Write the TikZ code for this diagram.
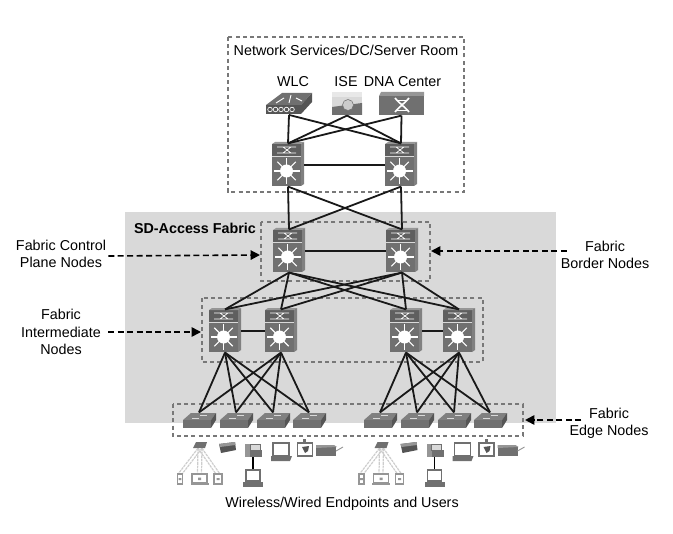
\documentclass[tikz,border=0pt]{standalone}
\usepackage{fontspec}
\setmainfont{Liberation Sans}
\usetikzlibrary{arrows.meta}
\usetikzlibrary{calc}
\definecolor{fabric-gray}{RGB}{217, 217, 217}
\definecolor{box-gray}{RGB}{120, 120, 120}
\definecolor{sw-gray}{RGB}{112, 112, 112}
\definecolor{sw-light}{RGB}{150, 150, 150}
\definecolor{sw-dark}{RGB}{85, 85, 85}
\definecolor{air-gray}{RGB}{205, 205, 205}
\tikzset{
  link/.style={draw=black!90, line width=1.35pt},
  zonebox/.style={draw=box-gray, line width=1.1pt, dash pattern=on 3pt off 2.4pt},
  callout/.style={draw=black, line width=1.2pt, dash pattern=on 4.5pt off 2.6pt, -{Triangle[length=7pt,width=7pt]}},
  label/.style={font=\fontsize{10.75}{13}\selectfont, align=center, inner sep=0pt},
  hitbox/.style={minimum width=#1, inner sep=0pt},
}
% multilayer switch
\newcommand{\mlswitch}[2]{
  \node[hitbox=24pt, minimum height=32pt] (#1) at (#2) {};
  \begin{scope}[shift={(#2)}]
    \fill[sw-gray] (-16,-9) rectangle (13,21);
    \fill[sw-gray!85!black] (-16,-21) rectangle (13,-9);
    \fill[sw-light] (-16,-21) -- (-13,-23) -- (16,-23) -- (13,-21) -- cycle;
    \fill[sw-light!85!black] (13,-21) -- (16,-23) -- (16,19) -- (13,21) -- cycle;
    \draw[fabric-gray, line width=.5pt] (-16,-9) -- (13,-9);
    \draw[white, line width=.5pt] (-11,-18) -- (8,-18) (-11,-12) -- (8,-12) (-5,-18) -- (3,-12) (-5,-12) -- (3,-18);
    \foreach \a in {0,45,...,315} \draw[white, line width=.8pt] (-1.5,6) -- ++(\a:13);
    \fill[white] (-1.5,6) circle (6.5);
  \end{scope}
}
% access switch
\newcommand{\edgeswitch}[2]{
  \node[hitbox=24pt, minimum height=11pt] (#1) at (#2) {};
  \begin{scope}[shift={(#2)}]
    \fill[sw-light!85!black] (-16,0) -- (-8,-7) -- (17,-7) -- (12,0) -- cycle;
    \fill[sw-gray] (-16,0) rectangle (12,8);
    \fill[sw-dark] (12,0) -- (17,-7) -- (17,0) -- (12,8) -- cycle;
    \draw[fabric-gray, line width=.4pt] (-7,-2) -- (0,-2) (1,-5) -- (8,-5);
  \end{scope}
}
\begin{document}
\begin{tikzpicture}[x=0.75pt, y=-0.75pt]
\useasboundingbox (0,0) rectangle (673,534);
\fill[fabric-gray] (125,212) rectangle (556,423);
\draw[zonebox] (228,37) rectangle (464,192);
\draw[zonebox] (261,222) rectangle (430,281);
\draw[zonebox] (202,298) rectangle (483,362);
\draw[zonebox] (173,404) rectangle (523,436);
% labels
\node[label] (services) at (346,50) {Network Services/DC/Server Room};
\node[label] (wlctext) at (293,82) {WLC};
\node[label] (isetext) at (346,82) {ISE};
\node[label] (dnatext) at (402.5,82) {DNA Center};
\node[label, font=\fontsize{10.75}{13}\selectfont\bfseries] (fabrictext) at (195,228) {SD-Access Fabric};
\node[label] (controltext) at (61,254) {Fabric Control\\Plane Nodes};
\node[label] (bordertext) at (605,255) {Fabric\\Border Nodes};
\node[label] (intertext) at (61,332) {Fabric\\Intermediate\\Nodes};
\node[label] (edgetext) at (609,423) {Fabric\\Edge Nodes};
\node[label] (usertext) at (342,504) {Wireless/Wired Endpoints and Users};
% services
\node[hitbox=34.5pt, minimum height=16pt] (wlc) at (289,104) {};
\fill[sw-gray] (266,105) -- (282,93) -- (312,93) -- (301,105) -- cycle;
\fill[sw-dark] (266,105) rectangle (301,114);
\fill[sw-dark] (301,105) -- (312,93) -- (312,102) -- (301,114) -- cycle;
\draw[white, line width=.7pt] (276,103) -- (284,98) (289,103) -- (291,95) (296,98) -- (302,101);
\foreach \x in {270,275.5,...,292} \draw[white, line width=.5pt] (\x,109.5) circle (2.3);
\node[hitbox=22.5pt, minimum height=17pt] (ise) at (347,104) {};
\fill[sw-light] (332,92) rectangle (362,115);
\fill[fabric-gray!60] (332,92) rectangle (362,97);
\fill[white!85!black] (332,97) rectangle (362,107);
\fill[sw-gray] (332,107) -- (362,103) -- (362,115) -- (332,115) -- cycle;
\fill[white!80!black, draw=sw-gray, line width=.4pt] (348,105) circle (5.5);
\node[hitbox=34pt, minimum height=17pt] (dna) at (401.5,104) {};
\fill[sw-gray] (379,96) rectangle (424,115);
\fill[sw-light] (379,96) -- (381,92) -- (424,92) -- (424,96) -- cycle;
\draw[white, line width=1.2pt] (395,98) .. controls (400,104) and (404,106) .. (409,112);
\draw[white, line width=1.2pt] (409,98) .. controls (404,104) and (400,106) .. (395,112);
\draw[white, line width=.7pt] (397,100) -- (407,100) (397,110) -- (407,110);
% switches
\mlswitch{c1}{288,165}
\mlswitch{c2}{401,165}
\mlswitch{b1}{289,251}
\mlswitch{b2}{402,251}
\mlswitch{i1}{225,331}
\mlswitch{i2}{281,331}
\mlswitch{i3}{406,331}
\mlswitch{i4}{459,331}
\edgeswitch{e1}{199,420}
\edgeswitch{e2}{236,420}
\edgeswitch{e3}{273,420}
\edgeswitch{e4}{309,420}
\edgeswitch{e5}{380,420}
\edgeswitch{e6}{417,420}
\edgeswitch{e7}{454,420}
\edgeswitch{e8}{490,420}
% links
\foreach \a/\b in {wlc/c1,wlc/c2,ise/c1,ise/c2,dna/c1,dna/c2,c1/b1,c1/b2,c2/b1,c2/b2,b1/i1,b1/i2,b1/i3,b1/i4,b2/i1,b2/i2,b2/i3,b2/i4}
  \draw[link] (\a.south) -- (\b.north);
\foreach \a in {i1,i2}
  \foreach \b in {e1,e2,e3,e4}
    \draw[link] (\a.south) -- (\b.north);
\foreach \a in {i3,i4}
  \foreach \b in {e5,e6,e7,e8}
    \draw[link] (\a.south) -- (\b.north);
\draw[link] (c1.east) -- (c2.west);
\draw[link] (b1.east) -- (b2.west);
\draw[link] (i1.east) -- (i2.west);
\draw[link] (i3.east) -- (i4.west);
% callouts
\coordinate (controlend) at (260,255);
\coordinate (borderend) at (431,251);
\coordinate (interend) at (201,332);
\coordinate (edgeend) at (525,420);
\draw[callout] (controltext.east) ++(2,2) -- (controlend);
\draw[callout] (bordertext.west) ++(6,-4) -- (borderend);
\draw[callout] (intertext.east) ++(7,0) -- (interend);
\draw[callout] (edgetext.west) ++(12,-3) -- (edgeend);
% endpoints
\foreach \s/\dx in {l/0,r/181.5}{
  \begin{scope}[xshift=\dx*0.75pt]
    \node[hitbox=10pt, minimum height=4.5pt] (ap\s) at (200,445) {};
    \node[hitbox=4pt, minimum height=7pt] (mob\s) at (180,479) {};
    \node[hitbox=12pt, minimum height=7pt] (lap\s) at (199.5,479) {};
    \node[hitbox=7pt, minimum height=7pt] (tab\s) at (218,479) {};
    \node[hitbox=12pt, minimum height=10pt] (ph\s) at (253,450) {};
    \node[hitbox=14pt, minimum height=13pt] (pc\s) at (253,478) {};
    \foreach \t in {mob,lap,tab} {
      \draw[air-gray, line width=.9pt, dash pattern=on 2pt off .6pt] ($(ap\s.south)+(-2,0)$) -- ($(\t\s.north)+(-2,0)$);
      \draw[air-gray, line width=.9pt, dash pattern=on 2pt off .6pt] ($(ap\s.south)+(2,0)$) -- ($(\t\s.north)+(2,0)$);
    }
    \draw[black, line width=.9pt] (ph\s.south) -- (pc\s.north);
    % access point
    \fill[sw-gray] (193,448) -- (196,442) -- (207,442) -- (205,448) -- cycle;
    % mobile, laptop, tablet
    \draw[sw-light, line width=.8pt, fill=white] (177.5,474) rectangle (182.5,484);
    \draw[sw-light, line width=.8pt, fill=white] (192,474) rectangle (207,483);
    \fill[sw-light] (190.5,483) rectangle (208.5,484.5);
    \draw[sw-light, line width=.8pt, fill=white] (214,474) rectangle (222,484);
    \fill[sw-light] (178.7,478) rectangle (181.3,480) (198,477.5) rectangle (201,480) (216.5,478) rectangle (219.5,480);
    % camera
    \fill[sw-dark] (219,444) -- (235,442) -- (236,450) -- (221,453) -- cycle;
    \fill[sw-light] (219,444) -- (235,442) -- (235.5,445) -- (220,447) -- cycle;
    % phone
    \fill[sw-light] (245,444) rectangle (250,457);
    \fill[fabric-gray] (250,444) rectangle (260,450);
    \fill[sw-gray] (250,450) rectangle (262,457);
    \draw[sw-gray, line width=.5pt] (250,444) rectangle (260,450);
    % computer
    \draw[sw-gray, line width=.9pt, fill=white] (246,470) rectangle (260,481);
    \fill[sw-gray] (243,482) -- (263,482) -- (263,487) -- (243,487) -- cycle;
    % laptop
    \draw[sw-gray, line width=.9pt, fill=white] (273,443) rectangle (289,456);
    \fill[sw-gray] (271,456) -- (292,456) -- (290,461) -- (271,461) -- cycle;
    % white camera
    \draw[sw-gray, line width=.9pt, fill=white] (297.5,443) rectangle (312.5,456);
    \fill[sw-dark] (302,447) -- (309,446) -- (308,451) -- (305,453) -- cycle;
    \fill[sw-gray] (303,439) rectangle (306,443);
    % device with cord
    \fill[sw-gray] (316,447) rectangle (336,456);
    \fill[sw-light] (316,445) -- (334,445) -- (337,447) -- (316,448) -- cycle;
    \draw[sw-light, line width=.7pt] (336,451) -- (343,447);
  \end{scope}
}
\end{tikzpicture}
\end{document}
